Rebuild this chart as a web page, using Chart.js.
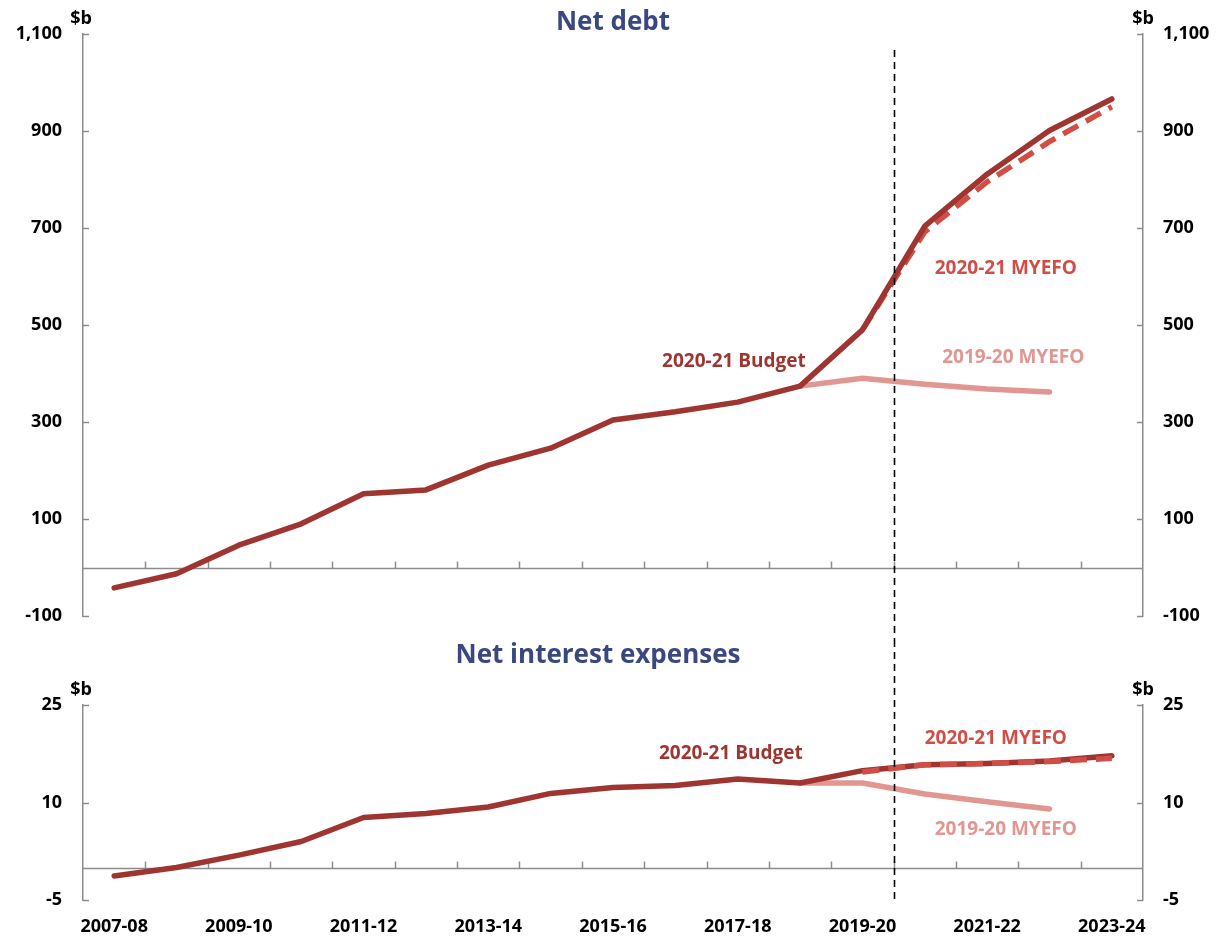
<!DOCTYPE html>
<html>
<head>
<meta charset="utf-8">
<script src="https://cdn.jsdelivr.net/npm/chart.js@4.4.1/dist/chart.umd.min.js"></script>
<style>
html,body{margin:0;padding:0;background:#fff;}
#wrap{position:relative;width:1225px;height:940px;overflow:hidden;}
canvas{position:absolute;left:0;}
#c1{top:0;}
#c2{top:640px;}
</style>
</head>
<body>
<div id="wrap">
<canvas id="c1" width="1225" height="640"></canvas>
<canvas id="c2" width="1225" height="300"></canvas>
</div>
<script>
// ---------------- DATA ----------------
const categories = ['2007-08','2008-09','2009-10','2010-11','2011-12','2012-13','2013-14','2014-15',
  '2015-16','2016-17','2017-18','2018-19','2019-20','2020-21','2021-22','2022-23','2023-24'];

const netDebtBudget2021 = [-42, -13, 46, 90, 152, 160, 211, 246, 304, 321, 341, 374, 490, 704, 811, 901, 966];
const netDebtMyefo1920  = [null, null, null, null, null, null, null, null, null, null, null, 374, 390, 378, 368, 362, null];
const netDebtMyefo2021  = [null, null, null, null, null, null, null, null, null, null, null, null, 490, 692, 795, 878, 950];

const interestBudget2021 = [-1.3, 0.0, 1.9, 4.0, 7.7, 8.3, 9.3, 11.4, 12.3, 12.6, 13.6, 13.0, 14.9, 15.8, 16.0, 16.4, 17.2];
const interestMyefo1920  = [null, null, null, null, null, null, null, null, null, null, null, 13.0, 13.0, 11.3, 10.1, 9.0, null];
const interestMyefo2021  = [null, null, null, null, null, null, null, null, null, null, null, null, 14.7, 15.8, 16.0, 16.3, 16.8];

const netDebtTicks  = [-100, 100, 300, 500, 700, 900, 1100];
const interestTicks = [-5, 10, 25];

const seriesNames = ['2020-21 Budget', '2020-21 MYEFO', '2019-20 MYEFO'];

// ---------------- STYLE ----------------
const C_BUDGET = 'rgb(158,53,48)';
const C_MYEFO21 = 'rgb(208,78,70)';
const C_MYEFO19 = 'rgb(225,150,145)';
const C_TITLE = 'rgb(58,72,128)';
const C_AXIS = '#8c8c8c';
const FONT = '"Open Sans", "Liberation Sans", sans-serif';

const decor = {
  id: 'decor',
  beforeDatasetsDraw(chart, args, o) {
    const ctx = chart.ctx, a = chart.chartArea, x = chart.scales.x, y = chart.scales.y;
    ctx.save();
    ctx.strokeStyle = C_AXIS; ctx.lineWidth = 1.5;
    const y0 = Math.round(y.getPixelForValue(0)) + 0.5;
    ctx.beginPath(); ctx.moveTo(a.left, y0); ctx.lineTo(a.right, y0); ctx.stroke();
    for (let i = 0; i < categories.length - 1; i++) {
      const bx = Math.round((x.getPixelForValue(i) + x.getPixelForValue(i + 1)) / 2) + 0.5;
      ctx.beginPath(); ctx.moveTo(bx, y0); ctx.lineTo(bx, y0 - 7); ctx.stroke();
    }
    for (const id of ['y', 'yR']) {
      const s = chart.scales[id];
      const ax = id === 'y' ? a.left : a.right;
      const dir = id === 'y' ? 1 : -1;
      for (const t of s.ticks) {
        const ty = Math.round(s.getPixelForValue(t.value)) + 0.5;
        ctx.beginPath(); ctx.moveTo(ax, ty); ctx.lineTo(ax + dir * 6, ty); ctx.stroke();
      }
      ctx.fillStyle = '#000';
      ctx.font = 'bold 18px ' + FONT;
      ctx.textAlign = 'center'; ctx.textBaseline = 'middle';
      ctx.fillText('$b', ax + (id === 'y' ? -2 : 0), a.top - 15);
    }
    ctx.restore();
  },
  afterDatasetsDraw(chart, args, o) {
    const ctx = chart.ctx, a = chart.chartArea, x = chart.scales.x, y = chart.scales.y;
    ctx.save();
    const vx = Math.round((x.getPixelForValue(12) + x.getPixelForValue(13)) / 2) + 0.5;
    const vTop = o.vlineFromValue !== undefined ? y.getPixelForValue(o.vlineFromValue) : 0;
    const vBot = o.vlineToBottom ? chart.height : a.bottom;
    ctx.strokeStyle = '#000'; ctx.lineWidth = 1.6; ctx.setLineDash([7, 5]);
    ctx.beginPath(); ctx.moveTo(vx, vTop); ctx.lineTo(vx, vBot); ctx.stroke();
    ctx.setLineDash([]);
    ctx.fillStyle = C_TITLE;
    ctx.font = 'bold 26px ' + FONT;
    ctx.textAlign = 'center'; ctx.textBaseline = 'middle';
    ctx.fillText(o.title, (a.left + a.right) / 2 + o.titleDx, a.top + o.titleDy);
    ctx.font = 'bold 19px ' + FONT;
    for (const l of o.labels) {
      ctx.fillStyle = l.color;
      ctx.fillText(l.text, x.getPixelForValue(l.xi), y.getPixelForValue(l.v));
    }
    ctx.restore();
  }
};

function yAxis(pos, ticks, min, max) {
  return {
    position: pos, min: min, max: max,
    afterBuildTicks: s => { s.ticks = ticks.map(v => ({ value: v })); },
    afterFit: s => {
      s.width = pos === 'left' ? 83 : 82;
      s.paddingTop = 0; s.paddingBottom = 0;
    },
    grid: { display: false, drawTicks: false },
    border: { display: true, color: C_AXIS, width: 1.5 },
    ticks: {
      color: '#000', padding: pos === 'left' ? 21 : 20,
      font: { family: FONT, size: 18, weight: 'bold' },
      callback: v => v.toLocaleString('en-US')
    }
  };
}

function lineDs(label, data, color, dashed, order) {
  return {
    label: label, data: data, borderColor: color, backgroundColor: color,
    borderWidth: 5.5, pointRadius: 0, tension: 0, spanGaps: false,
    borderCapStyle: dashed ? 'butt' : 'round', borderJoinStyle: 'round',
    borderDash: dashed ? [17, 9] : [], order: order, fill: false
  };
}

const common = {
  responsive: false, animation: false, devicePixelRatio: 1,
  plugins: { legend: { display: false }, tooltip: { enabled: false }, title: { display: false } }
};

new Chart(document.getElementById('c1'), {
  type: 'line',
  data: {
    labels: categories,
    datasets: [
      lineDs(seriesNames[0], netDebtBudget2021, C_BUDGET, false, 0),
      lineDs(seriesNames[1], netDebtMyefo2021, C_MYEFO21, true, 1),
      lineDs(seriesNames[2], netDebtMyefo1920, C_MYEFO19, false, 2)
    ]
  },
  options: Object.assign({}, common, {
    layout: { padding: { top: 34, bottom: 24, left: 0, right: 0 } },
    scales: {
      x: { type: 'category', offset: true, display: false },
      y: yAxis('left', netDebtTicks, -100, 1100),
      yR: yAxis('right', netDebtTicks, -100, 1100)
    },
    plugins: Object.assign({}, common.plugins, {
      decor: {
        title: 'Net debt', titleDx: 0, titleDy: -11,
        vlineFromValue: 1067, vlineToBottom: true,
        labels: [
          { text: seriesNames[0], xi: 9.94, v: 424, color: C_BUDGET },
          { text: seriesNames[1], xi: 14.3, v: 617, color: C_MYEFO21 },
          { text: seriesNames[2], xi: 14.42, v: 432, color: C_MYEFO19 }
        ]
      }
    })
  }),
  plugins: [decor]
});

new Chart(document.getElementById('c2'), {
  type: 'line',
  data: {
    labels: categories,
    datasets: [
      lineDs(seriesNames[1], interestMyefo2021, C_MYEFO21, true, 0),
      lineDs(seriesNames[0], interestBudget2021, C_BUDGET, false, 1),
      lineDs(seriesNames[2], interestMyefo1920, C_MYEFO19, false, 2)
    ]
  },
  options: Object.assign({}, common, {
    layout: { padding: { top: 65, bottom: 0, left: 0, right: 0 } },
    scales: {
      x: { type: 'category', offset: true, display: false },
      x2: {
        type: 'category', offset: true, position: 'bottom',
        afterFit: s => { s.height = 40; },
        grid: { display: false, drawTicks: false },
        border: { display: false },
        ticks: {
          autoSkip: false, maxRotation: 0, minRotation: 0, padding: 16, color: '#000',
          font: { family: FONT, size: 18, weight: 'bold' },
          callback: (v, i) => (i % 2 === 0 ? categories[i] : '')
        }
      },
      y: yAxis('left', interestTicks, -5, 25),
      yR: yAxis('right', interestTicks, -5, 25)
    },
    plugins: Object.assign({}, common.plugins, {
      decor: {
        title: 'Net interest expenses', titleDx: -15, titleDy: -49,
        vlineToBottom: false,
        labels: [
          { text: seriesNames[0], xi: 9.89, v: 17.6, color: C_BUDGET },
          { text: seriesNames[1], xi: 14.14, v: 19.9, color: C_MYEFO21 },
          { text: seriesNames[2], xi: 14.3, v: 5.8, color: C_MYEFO19 }
        ]
      }
    })
  }),
  plugins: [decor]
});
</script>
</body>
</html>
